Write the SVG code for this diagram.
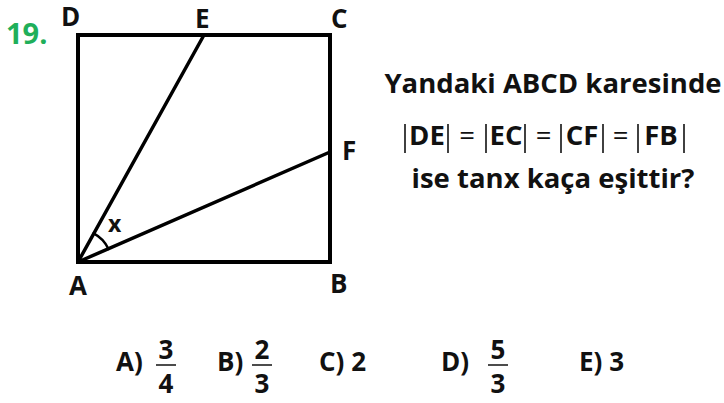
<svg xmlns="http://www.w3.org/2000/svg" width="724" height="403" viewBox="0 0 724 403">
<style>
text{font-family:"Open Sans","Noto Sans","Liberation Sans",sans-serif;font-weight:bold;fill:#111}
.lbl{font-size:26px}
.q{font-size:27.5px}
.opt{font-size:26px}
.fig{stroke:#000;fill:none;stroke-linecap:round;stroke-linejoin:miter}
.bar{stroke:#111;stroke-width:1.6}
.eq{font-weight:normal}
.frac{stroke:#111;stroke-width:1.5}
</style>
<rect width="724" height="403" fill="#fff"/>
<text x="6" y="44" style="font-size:29px;fill:#1faf5a">19.</text>
<g id="figure">
<rect class="fig" x="78" y="35" width="252" height="227" stroke-width="4"/>
</g>
<g id="connectors">
<line class="fig" x1="78" y1="262" x2="204" y2="35" stroke-width="3.5"/>
<line class="fig" x1="78" y1="262" x2="330" y2="152" stroke-width="3.5"/>
<path class="fig" d="M93.6 233.3 A33 33 0 0 1 108.5 249" stroke-width="2.5"/>
</g>
<g id="labels">
<text class="lbl" x="61" y="26">D</text>
<text class="lbl" x="195" y="28">E</text>
<text class="lbl" x="331" y="28">C</text>
<text class="lbl" x="342" y="160">F</text>
<text class="lbl" x="69" y="295">A</text>
<text class="lbl" x="330" y="293">B</text>
<text x="108" y="232" style="font-size:23px">x</text>
</g>
<g id="question">
<text class="q" x="553" y="93" text-anchor="middle">Yandaki ABCD karesinde</text>
<text class="q" x="427" y="145" text-anchor="middle">DE</text>
<text class="q" x="506" y="145" text-anchor="middle">EC</text>
<text class="q" x="582" y="145" text-anchor="middle">CF</text>
<text class="q" x="661" y="145" text-anchor="middle">FB</text>
<text class="q eq" x="467" y="145" text-anchor="middle">=</text>
<text class="q eq" x="543.5" y="145" text-anchor="middle">=</text>
<text class="q eq" x="620.5" y="145" text-anchor="middle">=</text>
<g class="bar">
<line x1="405" y1="124" x2="405" y2="153"/>
<line x1="448" y1="124" x2="448" y2="153"/>
<line x1="486" y1="124" x2="486" y2="153"/>
<line x1="525" y1="124" x2="525" y2="153"/>
<line x1="561" y1="124" x2="561" y2="153"/>
<line x1="603" y1="124" x2="603" y2="153"/>
<line x1="638" y1="124" x2="638" y2="153"/>
<line x1="684" y1="124" x2="684" y2="153"/>
</g>
<text class="q" x="553" y="188" text-anchor="middle">ise tanx kaça eşittir?</text>
</g>
<g id="options">
<text class="opt" x="116" y="371">A)</text>
<text class="opt" x="166" y="359" text-anchor="middle">3</text>
<line class="frac" x1="156" y1="365" x2="176" y2="365"/>
<text class="opt" x="166" y="393" text-anchor="middle">4</text>
<text class="opt" x="217" y="371">B)</text>
<text class="opt" x="262" y="359" text-anchor="middle">2</text>
<line class="frac" x1="252" y1="365" x2="272" y2="365"/>
<text class="opt" x="262" y="393" text-anchor="middle">3</text>
<text class="opt" x="319" y="371">C) 2</text>
<text class="opt" x="441" y="371">D)</text>
<text class="opt" x="498" y="359" text-anchor="middle">5</text>
<line class="frac" x1="488" y1="365" x2="508" y2="365"/>
<text class="opt" x="498" y="393" text-anchor="middle">3</text>
<text class="opt" x="579" y="371">E) 3</text>
</g>
</svg>
